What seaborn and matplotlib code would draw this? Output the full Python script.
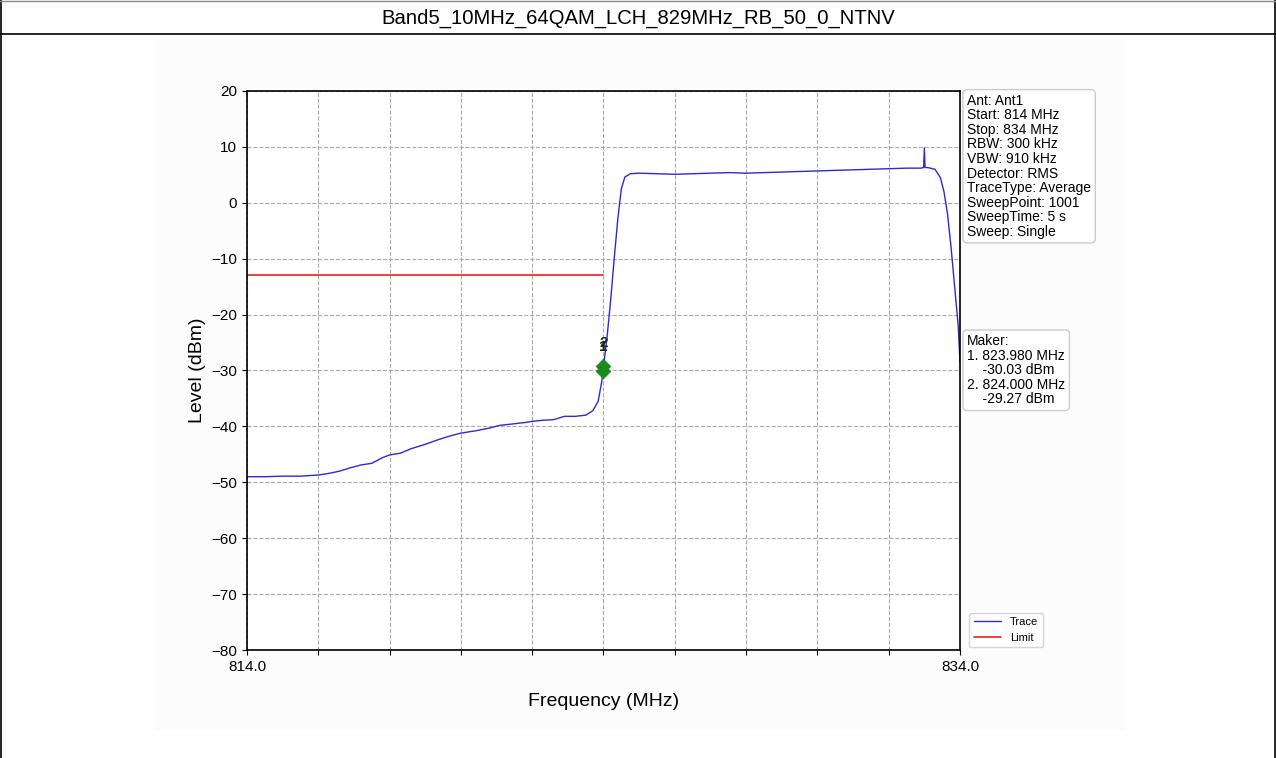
import matplotlib
matplotlib.use('Agg')
import matplotlib.pyplot as plt
import seaborn as sns
import pandas as pd
from matplotlib.patches import Rectangle
from matplotlib.lines import Line2D

# trace (MHz, dBm)
freq = [814.0, 814.5, 815.0, 815.5, 816.0, 816.3, 816.6, 816.9, 817.2, 817.5, 817.8,
        818.0, 818.3, 818.6, 819.0, 819.4, 819.7, 820.0, 820.4, 820.8, 821.1, 821.4,
        821.8, 822.0, 822.3, 822.6, 822.9, 823.2, 823.5, 823.7, 823.85, 823.95,
        824.0, 824.1, 824.2, 824.3, 824.4, 824.5, 824.6, 824.75, 825.0, 825.5,
        826.0, 826.5, 827.0, 827.5, 828.0, 828.5, 829.0, 829.5, 830.0, 830.5,
        831.0, 831.5, 832.0, 832.5, 832.9, 832.98, 833.0, 833.02, 833.1, 833.3,
        833.45, 833.55, 833.65, 833.75, 833.85, 833.95, 834.0]
level = [-49.0, -49.0, -48.9, -48.9, -48.7, -48.4, -48.0, -47.4, -46.9, -46.6, -45.6,
         -45.1, -44.8, -44.0, -43.2, -42.3, -41.7, -41.2, -40.8, -40.3, -39.8, -39.6,
         -39.3, -39.1, -38.9, -38.8, -38.2, -38.2, -38.0, -37.2, -35.5, -32.0,
         -29.3, -24.0, -17.5, -10.0, -3.0, 2.5, 4.6, 5.2, 5.3, 5.2,
         5.1, 5.2, 5.3, 5.4, 5.3, 5.4, 5.5, 5.6, 5.7, 5.8,
         5.9, 6.0, 6.1, 6.2, 6.2, 6.3, 9.8, 6.3, 6.3, 6.0,
         4.5, 2.0, -2.0, -8.0, -15.0, -22.0, -28.5]

limit_freq = [814.0, 824.0]
limit_level = [-13.0, -13.0]

marker_freq = [823.980, 824.000]
marker_level = [-30.03, -29.27]
marker_names = ['1', '2']

title = 'Band5_10MHz_64QAM_LCH_829MHz_RB_50_0_NTNV'
info_lines = ['Ant: Ant1', 'Start: 814 MHz', 'Stop: 834 MHz', 'RBW: 300 kHz', 'VBW: 910 kHz',
              'Detector: RMS', 'TraceType: Average', 'SweepPoint: 1001', 'SweepTime: 5 s',
              'Sweep: Single']

sns.set_style('ticks')
plt.rcParams['font.family'] = ['Liberation Sans', 'DejaVu Sans']
plt.rcParams['text.color'] = 'black'
plt.rcParams['axes.labelcolor'] = 'black'
plt.rcParams['xtick.color'] = 'black'
plt.rcParams['ytick.color'] = 'black'

fig = plt.figure(figsize=(12.76, 7.58), dpi=100)

# outer frame, title bar and the light background of the embedded chart
fig.patches.append(Rectangle((155 / 1276, 1 - 730 / 758), 970 / 1276, 690 / 758,
                             transform=fig.transFigure, facecolor='#fcfcfc', edgecolor='none', zorder=-10))
fig.add_artist(Line2D([0.001, 0.001], [0, 1], color='black', lw=1.2))
fig.add_artist(Line2D([0.999, 0.999], [0, 1], color='black', lw=1.2))
fig.add_artist(Line2D([0, 1], [0.999, 0.999], color='#888888', lw=1.0))
fig.add_artist(Line2D([0, 1], [1 - 34 / 758, 1 - 34 / 758], color='black', lw=1.2))
fig.text(0.5, 1 - 18 / 758, title, ha='center', va='center', fontsize=14.6)

ax = fig.add_axes([247 / 1276, 1 - 650 / 758, 713 / 1276, 559 / 758])
ax.set_facecolor('white')

df_trace = pd.DataFrame({'freq': freq, 'level': level, 'kind': 'Trace'})
df_limit = pd.DataFrame({'freq': limit_freq, 'level': limit_level, 'kind': 'Limit'})
sns.lineplot(data=df_trace, x='freq', y='level', color='#2b2bd6', lw=1.0, label='Trace', ax=ax)
sns.lineplot(data=df_limit, x='freq', y='level', color='#e8231e', lw=1.2, label='Limit', ax=ax)

sns.scatterplot(x=marker_freq, y=marker_level, marker='D', s=55, color='#1a8a1a',
                edgecolor='#1a8a1a', ax=ax, zorder=5, legend=False)
for f, l, n in zip(marker_freq, marker_level, marker_names):
    ax.text(f, l + 3.0, n, ha='center', va='bottom', fontsize=11, fontweight='bold', color='#222222')

ax.set_xlim(814, 834)
ax.set_ylim(-80, 20)
ax.set_xticks([814 + 2 * i for i in range(11)])
ax.set_xticklabels(['814.0'] + [''] * 9 + ['834.0'], fontsize=11)
ax.set_yticks(range(-80, 21, 10))
ax.tick_params(axis='y', labelsize=11)
ax.grid(True, linestyle='--', color='#aaaaaa', lw=0.8)
for s in ax.spines.values():
    s.set_color('black')
    s.set_linewidth(1.2)
ax.set_xlabel('Frequency (MHz)', fontsize=14, labelpad=14)
ax.set_ylabel('Level (dBm)', fontsize=14, labelpad=4)

box = dict(boxstyle='round,pad=0.3', facecolor='white', edgecolor='#cccccc', lw=1)
ax.text(1.01, 0.995, '\n'.join(info_lines), transform=ax.transAxes, ha='left', va='top',
        fontsize=10, linespacing=1.05, bbox=box)
ax.text(1.01, 0.565, 'Maker:\n1. 823.980 MHz\n    -30.03 dBm\n2. 824.000 MHz\n    -29.27 dBm',
        transform=ax.transAxes, ha='left', va='top', fontsize=10, linespacing=1.05, bbox=box)

ax.legend(loc='lower left', bbox_to_anchor=(1.005, -0.005), fontsize=8, frameon=True,
          edgecolor='#cccccc', handlelength=2.5)

fig.savefig('out.png', dpi=100)
